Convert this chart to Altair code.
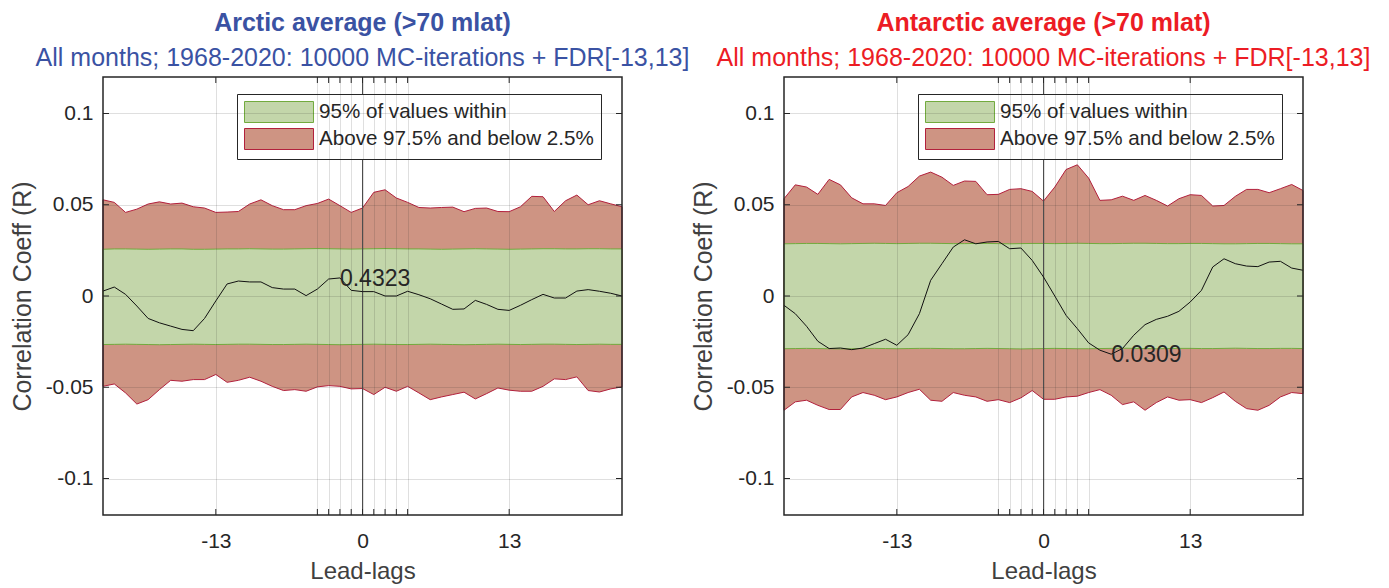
import altair as alt
import pandas as pd

lags = list(range(-23, 24))

# ---------------- Arctic ----------------
arctic_corr = [0.0027, 0.0049, 0.0009, -0.0055, -0.0123, -0.0147, -0.0165, -0.0183, -0.0190, -0.0123,
               -0.0027, 0.0066, 0.0082, 0.0077, 0.0077, 0.0046, 0.0038, 0.0038, 0.0002, 0.0038,
               0.0093, 0.0099, 0.0031, 0.0024, 0.0024, 0.0000, 0.0000, 0.0026, 0.0007, -0.0015,
               -0.0044, -0.0073, -0.0071, -0.0024, -0.0046, -0.0073, -0.0079, -0.0051, -0.0020, 0.0009,
               -0.0011, -0.0011, 0.0027, 0.0035, 0.0026, 0.0015, 0.0000]
arctic_max = [0.0527, 0.0513, 0.0458, 0.0476, 0.0504, 0.0516, 0.0504, 0.0509, 0.0489, 0.0482,
              0.0458, 0.0460, 0.0463, 0.0504, 0.0527, 0.0495, 0.0473, 0.0473, 0.0495, 0.0507,
              0.0531, 0.0495, 0.0458, 0.0482, 0.0568, 0.0582, 0.0537, 0.0513, 0.0485, 0.0482,
              0.0485, 0.0487, 0.0462, 0.0480, 0.0482, 0.0463, 0.0462, 0.0489, 0.0546, 0.0544,
              0.0463, 0.0522, 0.0553, 0.0500, 0.0522, 0.0505, 0.0489]
arctic_p975 = [0.0256, 0.0258, 0.0258, 0.0257, 0.0256, 0.0257, 0.0258, 0.0258, 0.0256, 0.0256,
               0.0257, 0.0258, 0.0258, 0.0259, 0.0258, 0.0257, 0.0257, 0.0258, 0.0259, 0.0260,
               0.0259, 0.0258, 0.0257, 0.0258, 0.0259, 0.0260, 0.0259, 0.0258, 0.0258, 0.0257,
               0.0256, 0.0257, 0.0258, 0.0259, 0.0258, 0.0257, 0.0256, 0.0257, 0.0258, 0.0259,
               0.0259, 0.0258, 0.0258, 0.0259, 0.0259, 0.0258, 0.0258]
arctic_p025 = [-0.0266, -0.0265, -0.0264, -0.0265, -0.0266, -0.0267, -0.0266, -0.0265, -0.0264, -0.0265,
               -0.0266, -0.0265, -0.0264, -0.0264, -0.0265, -0.0266, -0.0266, -0.0265, -0.0264, -0.0265,
               -0.0266, -0.0267, -0.0266, -0.0265, -0.0264, -0.0265, -0.0266, -0.0266, -0.0265, -0.0264,
               -0.0265, -0.0266, -0.0267, -0.0266, -0.0265, -0.0264, -0.0265, -0.0266, -0.0265, -0.0264,
               -0.0264, -0.0265, -0.0266, -0.0265, -0.0264, -0.0265, -0.0265]
arctic_min = [-0.0495, -0.0482, -0.0531, -0.0592, -0.0568, -0.0513, -0.0462, -0.0467, -0.0458, -0.0458,
              -0.0430, -0.0473, -0.0462, -0.0445, -0.0467, -0.0495, -0.0518, -0.0513, -0.0522, -0.0498,
              -0.0491, -0.0495, -0.0509, -0.0507, -0.0540, -0.0500, -0.0522, -0.0495, -0.0531, -0.0568,
              -0.0553, -0.0540, -0.0527, -0.0564, -0.0535, -0.0504, -0.0516, -0.0522, -0.0522, -0.0495,
              -0.0454, -0.0458, -0.0443, -0.0518, -0.0526, -0.0509, -0.0498]

# ---------------- Antarctic ----------------
antarctic_corr = [-0.0051, -0.0097, -0.0166, -0.0248, -0.0288, -0.0285, -0.0294, -0.0285, -0.0261, -0.0237,
                  -0.0270, -0.0212, -0.0097, 0.0086, 0.0177, 0.0268, 0.0308, 0.0286, 0.0296, 0.0299,
                  0.0259, 0.0263, 0.0195, 0.0104, 0.0000, -0.0106, -0.0179, -0.0257, -0.0297, -0.0319,
                  -0.0288, -0.0215, -0.0157, -0.0128, -0.0111, -0.0084, -0.0033, 0.0031, 0.0159, 0.0204,
                  0.0177, 0.0164, 0.0161, 0.0186, 0.0190, 0.0153, 0.0141]
antarctic_max = [0.0533, 0.0609, 0.0597, 0.0557, 0.0639, 0.0609, 0.0538, 0.0505, 0.0505, 0.0496,
                 0.0566, 0.0600, 0.0657, 0.0679, 0.0651, 0.0606, 0.0630, 0.0628, 0.0555, 0.0557,
                 0.0584, 0.0588, 0.0573, 0.0520, 0.0597, 0.0693, 0.0719, 0.0646, 0.0524, 0.0527,
                 0.0547, 0.0524, 0.0551, 0.0524, 0.0493, 0.0533, 0.0555, 0.0551, 0.0493, 0.0496,
                 0.0546, 0.0584, 0.0584, 0.0566, 0.0588, 0.0611, 0.0578]
antarctic_p975 = [0.0286, 0.0287, 0.0288, 0.0288, 0.0287, 0.0286, 0.0287, 0.0288, 0.0289, 0.0288,
                  0.0287, 0.0288, 0.0289, 0.0289, 0.0288, 0.0287, 0.0287, 0.0288, 0.0288, 0.0287,
                  0.0286, 0.0287, 0.0288, 0.0288, 0.0287, 0.0288, 0.0289, 0.0288, 0.0287, 0.0287,
                  0.0288, 0.0289, 0.0289, 0.0288, 0.0287, 0.0287, 0.0288, 0.0288, 0.0287, 0.0286,
                  0.0286, 0.0287, 0.0288, 0.0288, 0.0287, 0.0286, 0.0286]
antarctic_p025 = [-0.0289, -0.0288, -0.0287, -0.0288, -0.0289, -0.0290, -0.0289, -0.0288, -0.0287, -0.0288,
                  -0.0289, -0.0288, -0.0287, -0.0287, -0.0288, -0.0289, -0.0289, -0.0288, -0.0287, -0.0288,
                  -0.0289, -0.0290, -0.0289, -0.0288, -0.0287, -0.0288, -0.0289, -0.0289, -0.0288, -0.0287,
                  -0.0286, -0.0287, -0.0288, -0.0289, -0.0288, -0.0287, -0.0287, -0.0288, -0.0288, -0.0287,
                  -0.0286, -0.0287, -0.0288, -0.0288, -0.0287, -0.0287, -0.0288]
antarctic_min = [-0.0626, -0.0580, -0.0571, -0.0599, -0.0622, -0.0622, -0.0553, -0.0529, -0.0544, -0.0568,
                 -0.0553, -0.0529, -0.0511, -0.0571, -0.0577, -0.0529, -0.0544, -0.0553, -0.0577, -0.0568,
                 -0.0584, -0.0558, -0.0518, -0.0566, -0.0566, -0.0553, -0.0549, -0.0529, -0.0513, -0.0544,
                 -0.0595, -0.0580, -0.0626, -0.0584, -0.0553, -0.0571, -0.0568, -0.0584, -0.0557, -0.0526,
                 -0.0577, -0.0617, -0.0626, -0.0599, -0.0553, -0.0529, -0.0535]

x_tick_values = [-13, -4, -3, -2, -1, 0, 1, 2, 3, 4, 13]
x_label_values = [-13, 0, 13]
y_tick_values = [-0.1, -0.05, 0, 0.05, 0.1]

BAND_IN = "95% of values within"
BAND_OUT = "Above 97.5% and below 2.5%"
FILLS = ["#C3D6AA", "#CE9483"]
EDGES = ["#72AA3E", "#B2203C"]
FONT = "Liberation Sans"
INK = "#262626"
W, H = 519, 438


def panel(title, subtitle, tcolor, corr, mx, hi, lo, mn, label, label_lag):
    df = pd.DataFrame({"lag": lags, "corr": corr, "mx": mx, "hi": hi, "lo": lo, "mn": mn})
    df_out = df.assign(band=BAND_OUT)
    df_in = df.assign(band=BAND_IN)
    xs = alt.Scale(domain=[-23, 23], nice=False, zero=False)
    ys = alt.Scale(domain=[-0.12, 0.12], nice=False, zero=False)
    x_axis = alt.Axis(values=x_tick_values, grid=True, gridColor=INK, gridOpacity=0.15,
                      domain=False, ticks=False, zindex=1,
                      labelExpr="indexof(%s, datum.value) >= 0 ? '' + datum.value : ''" % str(x_label_values),
                      labelFontSize=21, labelFont=FONT, labelColor=INK, labelPadding=15,
                      titleFontSize=24, titleFont=FONT, titleColor="#404040", titleFontWeight="normal",
                      titlePadding=8)
    y_axis = alt.Axis(values=y_tick_values, grid=True, gridColor=INK, gridOpacity=0.15,
                      domain=False, ticks=False, zindex=1, labelExpr="'' + datum.value",
                      labelFontSize=21, labelFont=FONT, labelColor=INK, labelPadding=10,
                      titleFontSize=25, titleFont=FONT, titleColor="#404040", titleFontWeight="normal",
                      titlePadding=10)

    def X(field):
        return alt.X(field, type="quantitative", scale=xs, axis=x_axis, title="Lead-lags")

    def Y(field):
        return alt.Y(field, type="quantitative", scale=ys, axis=y_axis, title="Correlation Coeff (R)")

    fill_scale = alt.Scale(domain=[BAND_IN, BAND_OUT], range=FILLS)
    stroke_scale = alt.Scale(domain=[BAND_IN, BAND_OUT], range=EDGES)
    legend = alt.Legend(title=None, orient="none", legendX=134, legendY=17,
                        symbolType="M-1,-1H5.571V1H-1Z", symbolSize=441,
                        symbolStrokeWidth=1, symbolOpacity=1,
                        labelFontSize=20.6, labelFont=FONT, labelColor=INK, labelOffset=53,
                        labelLimit=500, rowPadding=1, padding=7,
                        strokeColor=INK, fillColor="white", cornerRadius=0)

    outer = alt.Chart(df_out).mark_area(strokeWidth=1, opacity=1).encode(
        x=X("lag"), y=Y("mn"), y2="mx",
        fill=alt.Fill("band:N", scale=fill_scale, legend=legend),
        stroke=alt.Stroke("band:N", scale=stroke_scale, legend=legend),
    )
    inner = alt.Chart(df_in).mark_area(strokeWidth=1, opacity=1).encode(
        x=X("lag"), y=Y("lo"), y2="hi",
        fill=alt.Fill("band:N", scale=fill_scale, legend=legend),
        stroke=alt.Stroke("band:N", scale=stroke_scale, legend=legend),
    )
    zero_line = alt.Chart(pd.DataFrame({"v": [0]})).mark_rule(color="#4d4d4d", strokeWidth=1).encode(
        x=X("v")
    )
    line = alt.Chart(df).mark_line(color="#111111", strokeWidth=1).encode(x=X("lag"), y=Y("corr"))
    lab_df = pd.DataFrame({"lag": [label_lag], "corr": [corr[lags.index(label_lag)]], "txt": [label]})
    text = alt.Chart(lab_df).mark_text(align="left", baseline="middle", fontSize=23, font=FONT,
                                       color=INK, dy=1).encode(x=X("lag"), y=Y("corr"), text="txt:N")
    ytk = pd.DataFrame({"v": y_tick_values})
    xtk = pd.DataFrame({"v": x_tick_values})
    tl = alt.Chart(ytk).mark_rule(color=INK, strokeWidth=1).encode(y=Y("v"), x=alt.value(0), x2=alt.value(6))
    tr = alt.Chart(ytk).mark_rule(color=INK, strokeWidth=1).encode(y=Y("v"), x=alt.value(W - 6), x2=alt.value(W))
    tb = alt.Chart(xtk).mark_rule(color=INK, strokeWidth=1).encode(x=X("v"), y=alt.value(H - 6), y2=alt.value(H))
    tt = alt.Chart(xtk).mark_rule(color=INK, strokeWidth=1).encode(x=X("v"), y=alt.value(0), y2=alt.value(6))
    frame = alt.Chart(pd.DataFrame({"k": [1]})).mark_rect(fillOpacity=0, stroke=INK, strokeWidth=1.5).encode(
        x=alt.value(0), x2=alt.value(W), y=alt.value(0), y2=alt.value(H)
    )
    return alt.layer(outer, inner, zero_line, line, text, tl, tr, tb, tt, frame).properties(
        width=W, height=H,
        title=alt.TitleParams(text=title, subtitle=subtitle, color=tcolor, subtitleColor=tcolor,
                              font=FONT, subtitleFont=FONT, fontSize=25, subtitleFontSize=25,
                              fontWeight="bold", subtitleFontWeight="normal",
                              anchor="middle", frame="group", offset=5, subtitlePadding=10),
    )


sub = "All months; 1968-2020: 10000 MC-iterations + FDR[-13,13]"
left = panel("Arctic average (>70 mlat)", sub, "#3A52A3",
             arctic_corr, arctic_max, arctic_p975, arctic_p025, arctic_min, "0.4323", -2)
right = panel("Antarctic average (>70 mlat)", sub, "#EC1C24",
              antarctic_corr, antarctic_max, antarctic_p975, antarctic_p025, antarctic_min, "0.0309", 6)

chart = alt.hconcat(left, right, spacing=162, bounds="flush").resolve_scale(
    fill="independent", stroke="independent"
).resolve_legend(fill="independent", stroke="independent").properties(
    padding={"left": 2, "top": 3, "right": 5, "bottom": 5}
).configure_view(stroke=None)

chart.save("out.html", embed_options={"renderer": "svg", "actions": False})
